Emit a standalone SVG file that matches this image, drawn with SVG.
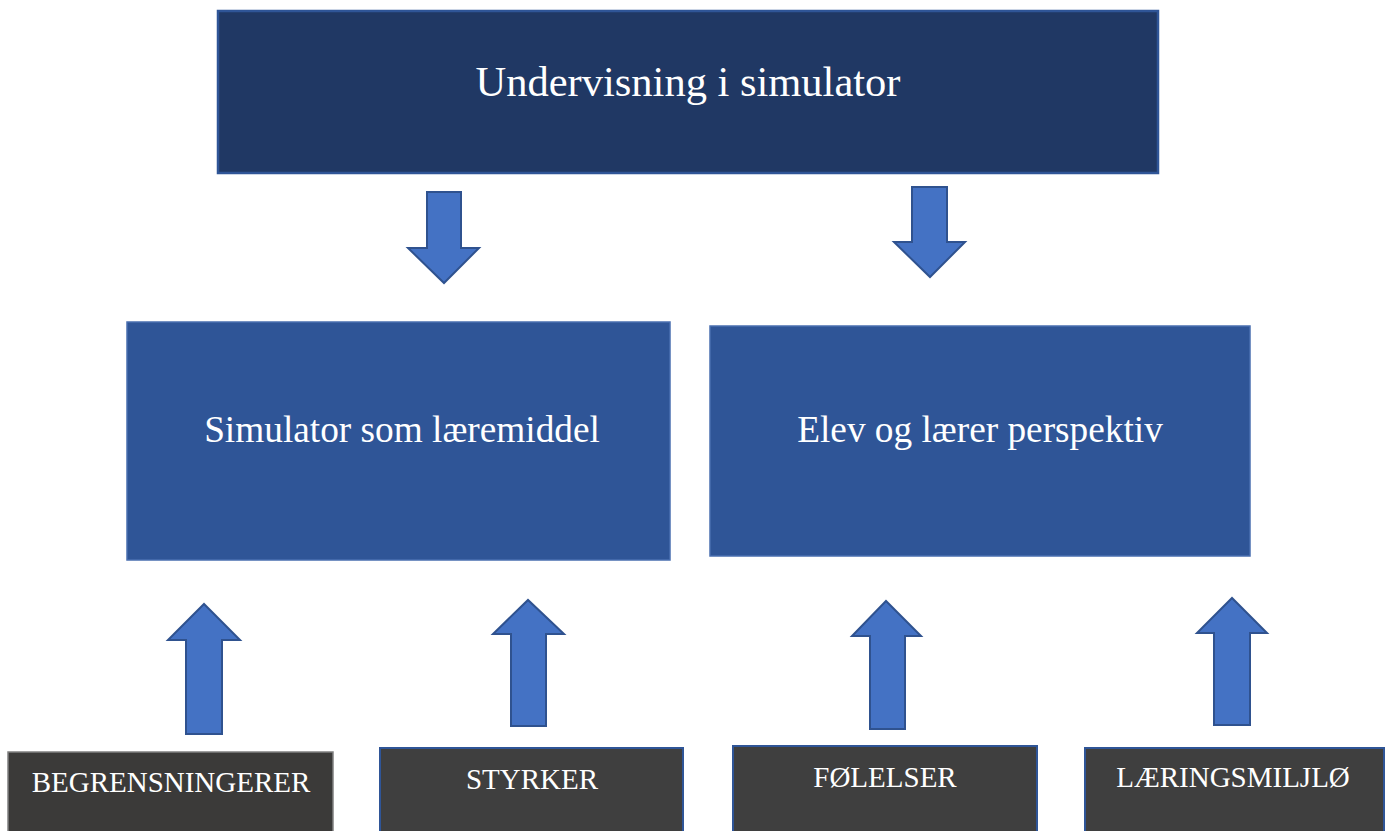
<svg xmlns="http://www.w3.org/2000/svg" width="1389" height="831" viewBox="0 0 1389 831">
<style>
.t{font-family:"Liberation Serif","Times New Roman",serif;fill:#ffffff;text-anchor:middle}
.arrow{fill:#4472C4;stroke:#2F528F;stroke-width:2;stroke-linejoin:miter}
.dark{fill:#3F3F3F;stroke:#2F5597;stroke-width:2}
.mid{fill:#2F5597;stroke:#4A6FB0;stroke-width:1.5}
</style>
<rect width="1389" height="831" fill="#ffffff"/>
<g id="top">
<rect x="218" y="11" width="940" height="162" fill="#203864" stroke="#2F5597" stroke-width="2.5"/>
<text class="t" x="688" y="96" font-size="42.5">Undervisning i simulator</text>
</g>
<g id="mid-left">
<rect class="mid" x="127" y="322" width="543" height="238"/>
<text class="t" x="402" y="442" font-size="37.3">Simulator som læremiddel</text>
</g>
<g id="mid-right">
<rect class="mid" x="710" y="326" width="540" height="230"/>
<text class="t" x="980" y="442" font-size="37.3">Elev og lærer perspektiv</text>
</g>
<g id="b1">
<rect x="8" y="752" width="325" height="85" fill="#3B3A39" stroke="#808080" stroke-width="1.5"/>
<text class="t" x="171" y="792" font-size="29">BEGRENSNINGERER</text>
</g>
<g id="b2">
<rect class="dark" x="380" y="748" width="303" height="89"/>
<text class="t" x="532" y="789" font-size="29">STYRKER</text>
</g>
<g id="b3">
<rect class="dark" x="733" y="746" width="304" height="91"/>
<text class="t" x="885" y="787" font-size="29">FØLELSER</text>
</g>
<g id="b4">
<rect class="dark" x="1085" y="748" width="299" height="89"/>
<text class="t" x="1233" y="787" font-size="29">LÆRINGSMILJLØ</text>
</g>
<g id="connectors">
<polygon class="arrow" points="427,192 461,192 461,248 479,248 444,283 408,248 427,248"/>
<polygon class="arrow" points="912,187 947,187 947,242 965,242 930,277 894,242 912,242"/>
<polygon class="arrow" points="186,734 222,734 222,640 240,640 204,604 168,640 186,640"/>
<polygon class="arrow" points="511,726 546,726 546,634 564,634 528,600 493,634 511,634"/>
<polygon class="arrow" points="870,729 905,729 905,636 921,636 886,601 852,636 870,636"/>
<polygon class="arrow" points="1214,725 1250,725 1250,633 1267,633 1232,598 1197,633 1214,633"/>
</g>
</svg>
